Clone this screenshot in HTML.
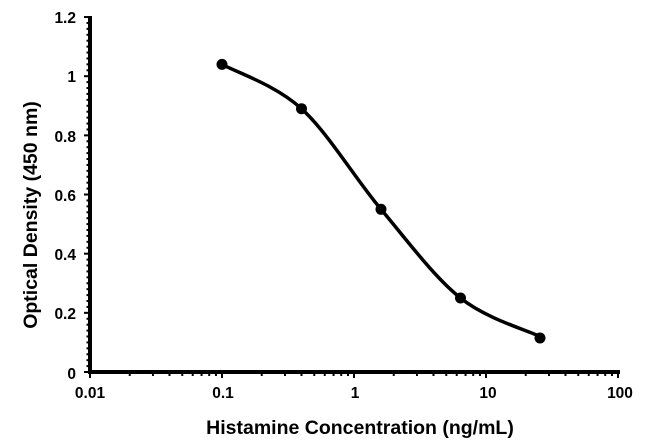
<!DOCTYPE html>
<html><head><meta charset="utf-8"><style>
html,body{margin:0;padding:0;background:#fff;}
svg{display:block;font-family:"Liberation Sans",Arial,sans-serif;font-weight:bold;}
</style></head><body>
<svg id="s" width="650" height="444" viewBox="0 0 650 444" xmlns="http://www.w3.org/2000/svg">
<g id="ticks" stroke="#000" stroke-width="2"></g>
<line x1="90" y1="16" x2="90" y2="374" stroke="#000" stroke-width="4"/>
<line x1="88" y1="372" x2="620" y2="372" stroke="#000" stroke-width="4"/>
<g font-size="15.5" text-anchor="end" fill="#000">
<text x="76" y="23">1.2</text>
<text x="76" y="82">1</text>
<text x="76" y="142">0.8</text>
<text x="76" y="201">0.6</text>
<text x="76" y="260">0.4</text>
<text x="76" y="319">0.2</text>
<text x="76" y="379">0</text>
</g>
<g font-size="15.5" text-anchor="middle" fill="#000">
<text x="90" y="398">0.01</text>
<text x="223" y="398">0.1</text>
<text x="355" y="398">1</text>
<text x="488" y="398">10</text>
<text x="620" y="398">100</text>
</g>
<text x="360" y="434" font-size="19.5" text-anchor="middle">Histamine Concentration (ng/mL)</text>
<text transform="translate(37,215) rotate(-90)" font-size="19.5" text-anchor="middle">Optical Density (450 nm)</text>
<path d="M222,64.4 C235.25,71.8 275,84.55 301.5,108.7 C328,132.85 354.5,177.75 381,209.3 C407.5,240.85 434,276.8 460.5,298 C487,319.2 527.25,330.1 540,336.5" fill="none" stroke="#000" stroke-width="3.5"/>
<g fill="#000">
<circle cx="222" cy="64.4" r="5.5"/>
<circle cx="301.5" cy="108.7" r="5.5"/>
<circle cx="381" cy="209.3" r="5.5"/>
<circle cx="460.5" cy="298" r="5.5"/>
<circle cx="540" cy="338" r="5.5"/>
</g>
</svg>
<script>
var g=document.getElementById('ticks'),ns='http://www.w3.org/2000/svg';
function L(x1,y1,x2,y2){var l=document.createElementNS(ns,'line');l.setAttribute('x1',x1);l.setAttribute('y1',y1);l.setAttribute('x2',x2);l.setAttribute('y2',y2);g.appendChild(l);}
for(var i=0;i<=60;i++){var y=372-295.8*i*0.02;if(i%10==0)L(84,y,90,y);else L(86.5,y,90,y);}
for(var d=0;d<4;d++){var x0=90+132*d;L(x0,372,x0,378);for(var k=2;k<=9;k++){var x=x0+132*Math.log10(k);L(x,372,x,376);}}
L(618,372,618,378);
</script>
</body></html>
